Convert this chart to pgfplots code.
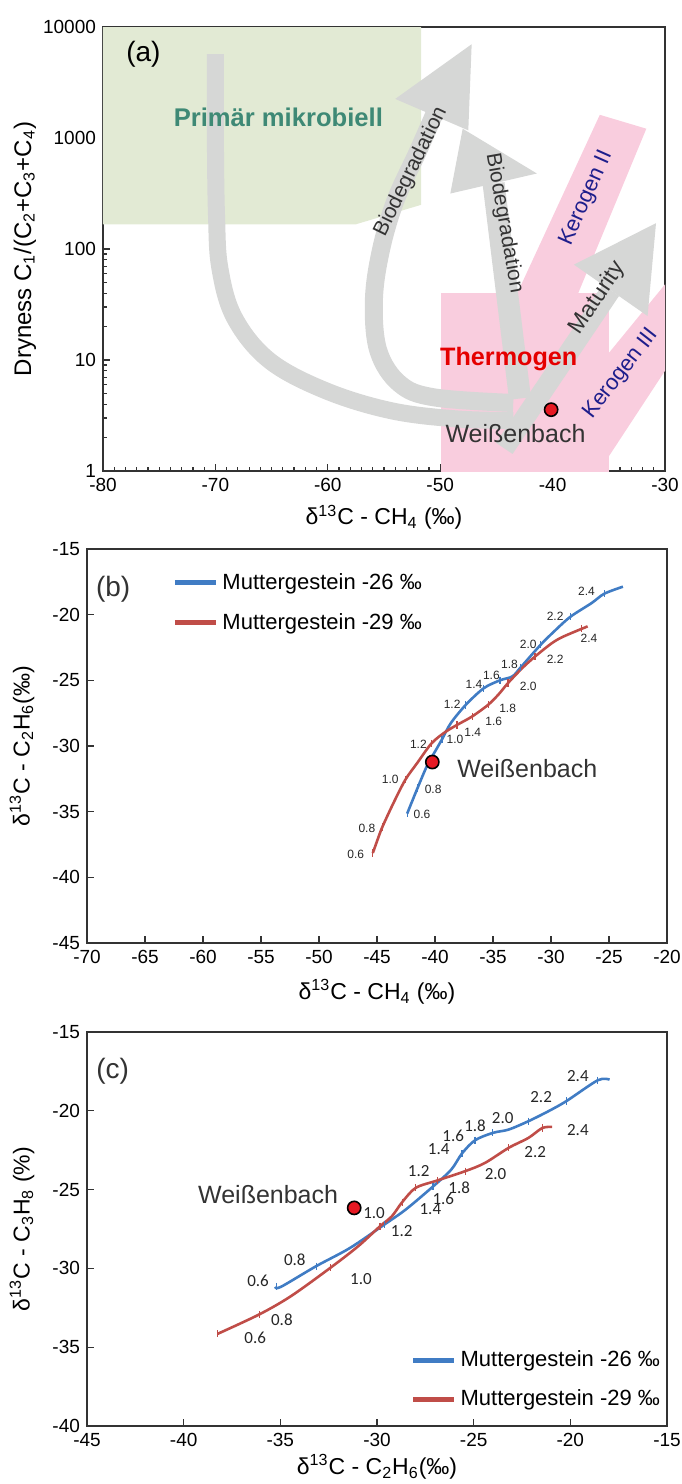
\documentclass[border=0pt]{standalone}
\usepackage{fontspec}
\setmainfont{Liberation Sans}
\newfontfamily\calibri{Carlito}
\usepackage{pgfplots}
\pgfplotsset{compat=1.18}

\definecolor{cblue}{RGB}{64,124,196}
\definecolor{cred}{RGB}{192,77,72}
\definecolor{dotred}{RGB}{230,25,35}
\definecolor{mgreen}{RGB}{226,234,212}
\definecolor{mpink}{RGB}{249,205,222}
\definecolor{agray}{RGB}{214,215,214}
\definecolor{teal2}{RGB}{62,137,117}
\definecolor{navy2}{RGB}{30,30,140}
\definecolor{axgray}{RGB}{51,51,51}

\pgfplotsset{
  panel/.style={
    scale only axis,
    axis line style={axgray, line width=1.4pt},
    tick align=inside, xtick pos=left, ytick pos=left,
    tick style={axgray, line width=0.6pt},
    major tick length=3.5pt, minor tick length=2.2pt,
    tick label style={font=\fontsize{9.5}{11}\selectfont},
    /pgf/number format/assume math mode=true,
    every axis label/.append style={font=\fontsize{11.5}{13}\selectfont},
    legend cell align=left,
    legend image code/.code={\draw[#1, line width=2.6pt] (0pt,0pt) -- (20.5pt,0pt);},
  },
  curve/.style={line width=1.3pt, smooth, tension=0.5},
  mat/.style={only marks, mark=|, mark size=1.8pt, mark options={line width=0.6pt}, forget plot},
  lbl/.style={only marks, mark=none, forget plot, nodes near coords, point meta=explicit symbolic,
    nodes near coords style={anchor=center, inner sep=0pt, text=black!85, font=#1}},
  dot/.style={only marks, mark=*, mark size=3.3pt, forget plot,
    mark options={fill=dotred, draw=black, line width=0.8pt}},
}

\begin{document}
\begin{tikzpicture}
\useasboundingbox (0,0) rectangle (340.5pt,-742pt);

% ---------------- (a)
\begin{axis}[panel, at={(51.5pt,-235.5pt)}, anchor=south west,
  width=281pt, height=222pt,
  xmin=-80, xmax=-30, ymode=log, ymin=1, ymax=10000,
  xtick={-80,-70,...,-30}, minor x tick num=9,
  ytick={1,10,100,1000,10000}, yticklabels={1,10,100,1000,10000},
  xlabel={δ\textsuperscript{13}C - CH\textsubscript{4} (‰)},
  ylabel={Dryness C\textsubscript{1}/(C\textsubscript{2}+C\textsubscript{3}+C\textsubscript{4})},
  xlabel style={at={(axis description cs:0.5,-0.104)}, anchor=center},
  ylabel style={at={(axis description cs:-0.139,0.5)}, anchor=center, font=\fontsize{12}{14}\selectfont},
]
\addplot[draw=none, fill=mgreen, forget plot] coordinates {(-81,11000) (-51.7,11000) (-51.7,250) (-57.5,167) (-81,167)} -- cycle;
\addplot[draw=none, fill=mpink, forget plot] coordinates {(-49.9,0.9) (-35,0.9) (-35,40) (-49.9,40)} -- cycle;
\addplot[draw=none, fill=mpink, forget plot] coordinates {(-43.15,39.8) (-35.8,1618) (-31.66,1213) (-37.73,39.8)} -- cycle;
\addplot[draw=none, fill=mpink, forget plot] coordinates {(-35.8,9.2) (-30,48) (-30,8) (-35.03,1.34)} -- cycle;

\addplot[agray, line width=8.5pt, smooth, tension=0.6, forget plot] coordinates {
  (-70,5700) (-70,1000) (-69.9,200) (-69.6,67) (-68.3,24) (-65.2,9.9) (-60.2,5.3) (-54.4,3.5) (-48.6,2.95) (-43.5,2.85)};
\addplot[agray, line width=9pt, smooth, tension=0.6, forget plot] coordinates {
  (-43.5,4.1) (-50.5,4.6) (-53.6,6.1) (-55.5,12.1) (-55.9,33.9) (-55.3,95) (-54,270) (-52,750) (-50.4,1750)};
\addplot[draw=none, fill=agray, forget plot] coordinates {(-54,2250) (-47.2,7000) (-47.5,1172)} -- cycle;
\addplot[agray, line width=11pt, forget plot] coordinates {(-42.9,4.5) (-45.25,389)};
\addplot[draw=none, fill=agray, forget plot] coordinates {(-48.0,1213) (-49.1,316) (-41.4,479)} -- cycle;
\addplot[agray, line width=10pt, forget plot] coordinates {(-44.3,1.6) (-34.82,42.5)};
\addplot[draw=none, fill=agray, forget plot] coordinates {(-30.8,171) (-38.1,72.3) (-31.55,24.9)} -- cycle;

\node[font=\fontsize{14}{16}\selectfont] at (axis cs:-76.4,5690) {(a)};
\node[font=\bfseries\fontsize{12.8}{14}\selectfont, text=teal2] at (axis cs:-64.4,1540) {Primär mikrobiell};
\node[font=\bfseries\fontsize{12.6}{14}\selectfont, text=red!90!black] at (axis cs:-43.9,10.2) {Thermogen};
\node[font=\fontsize{12.5}{14}\selectfont, text=axgray] at (axis cs:-43.3,2.17) {Weißenbach};
\node[font=\fontsize{11}{13}\selectfont, text=navy2, rotate=66] at (axis cs:-37,286) {Kerogen II};
\node[font=\fontsize{11}{13}\selectfont, text=navy2, rotate=52] at (axis cs:-33.9,7.5) {Kerogen III};
\node[font=\fontsize{11.5}{13}\selectfont, text=axgray, rotate=56] at (axis cs:-36,36.3) {Maturity};
\node[font=\fontsize{10.5}{12}\selectfont, text=axgray, rotate=64] at (axis cs:-52.6,497) {Biodegradation};
\node[font=\fontsize{10.5}{12}\selectfont, text=axgray, rotate=-80] at (axis cs:-44.3,171) {Biodegradation};
\addplot[dot] coordinates {(-40.13,3.57)};
\end{axis}

% ---------------- (b)
\begin{axis}[panel, at={(43.5pt,-471.5pt)}, anchor=south west,
  width=290pt, height=197pt,
  xmin=-70, xmax=-20, ymin=-45, ymax=-15,
  xtick={-70,-65,...,-20}, ytick={-45,-40,...,-15},
  xlabel={δ\textsuperscript{13}C - CH\textsubscript{4} (‰)},
  ylabel={δ\textsuperscript{13}C - C\textsubscript{2}H\textsubscript{6}(‰)},
  xlabel style={at={(axis description cs:0.5,-0.124)}, anchor=center},
  ylabel style={at={(axis description cs:-0.112,0.5)}, anchor=center},
  legend style={draw=none, fill=none, at={(axis cs:-63.2,-16.2)}, anchor=north west,
    font=\fontsize{11}{13}\selectfont, row sep=6.5pt},
]
\addplot[cblue, curve] coordinates {
  (-42.40,-35.15) (-41.50,-33.19) (-40.68,-31.50) (-39.82,-30.15) (-39.40,-29.50) (-38.63,-28.25)
  (-37.35,-26.87) (-35.80,-25.60) (-34.40,-25.00) (-33.33,-24.70) (-32.60,-24.00) (-30.90,-22.30)
  (-29.57,-21.14) (-28.30,-20.14) (-26.49,-19.11) (-25.40,-18.40) (-23.80,-17.87)};
\addlegendentry{Muttergestein -26 ‰}
\addplot[cred, curve] coordinates {
  (-45.36,-38.15) (-44.95,-37.13) (-44.54,-36.17) (-43.58,-34.34) (-42.55,-32.56) (-41.53,-31.29)
  (-40.30,-29.80) (-39.14,-28.95) (-38.11,-28.40) (-36.80,-27.75) (-35.40,-26.85) (-34.50,-26.05)
  (-33.70,-25.20) (-32.47,-24.06) (-31.38,-23.19) (-29.91,-22.16) (-28.89,-21.65) (-26.84,-20.89)};
\addlegendentry{Muttergestein -29 ‰}
\addplot[mat, cblue] coordinates {
  (-42.40,-35.15) (-41.50,-33.19) (-39.40,-29.50) (-37.35,-26.87) (-35.80,-25.60)
  (-34.40,-25.00) (-32.60,-24.00) (-30.90,-22.30) (-28.30,-20.14) (-25.40,-18.40)};
\addplot[mat, cred] coordinates {
  (-45.36,-38.15) (-44.54,-36.17) (-42.55,-32.56) (-40.30,-29.80) (-38.11,-28.40)
  (-36.80,-27.75) (-35.40,-26.85) (-33.70,-25.20) (-31.38,-23.19) (-27.40,-21.05)};
\addplot[lbl={\fontsize{6}{7}\selectfont}] table[meta=l] {
x y l
-41.12 -35.23 0.6
-40.16 -33.27 0.8
-38.28 -29.47 1.0
-38.52 -26.80 1.2
-36.64 -25.33 1.4
-35.14 -24.62 1.6
-33.57 -23.76 1.8
-31.96 -22.23 2.0
-29.64 -20.13 2.2
-26.94 -18.22 2.4
-46.83 -38.27 0.6
-45.87 -36.29 0.8
-43.86 -32.56 1.0
-41.43 -29.85 1.2
-36.75 -28.96 1.4
-34.94 -28.12 1.6
-33.74 -27.16 1.8
-31.96 -25.46 2.0
-29.64 -23.43 2.2
-26.73 -21.78 2.4
};
\addplot[dot] coordinates {(-40.23,-31.22)};
\node[font=\fontsize{12.5}{14}\selectfont, text=axgray, anchor=west, inner sep=1pt] at (axis cs:-38.28,-31.68) {Weißenbach};
\node[font=\fontsize{14}{16}\selectfont, text=axgray] at (axis cs:-67.74,-18.1) {(b)};
\end{axis}

% ---------------- (c)
\begin{axis}[panel, at={(43.5pt,-713pt)}, anchor=south west,
  width=290pt, height=197pt,
  xmin=-45, xmax=-15, ymin=-40, ymax=-15,
  xtick={-45,-40,...,-15}, ytick={-40,-35,...,-15},
  xlabel={δ\textsuperscript{13}C - C\textsubscript{2}H\textsubscript{6}(‰)},
  ylabel={δ\textsuperscript{13}C - C\textsubscript{3}H\textsubscript{8} (\%)},
  xlabel style={at={(axis description cs:0.5,-0.104)}, anchor=center},
  ylabel style={at={(axis description cs:-0.112,0.5)}, anchor=center},
  legend style={draw=none, fill=none, at={(axis cs:-28.6,-34.7)}, anchor=north west,
    font=\fontsize{11}{13}\selectfont, row sep=6pt},
]
\addplot[cblue, curve] coordinates {
  (-35.27,-31.17) (-34.97,-31.17) (-33.15,-29.86) (-31.38,-28.69) (-29.60,-27.20) (-28.51,-26.26)
  (-27.10,-24.80) (-26.16,-23.73) (-25.60,-22.70) (-24.93,-21.87) (-24.01,-21.40) (-23.19,-21.19)
  (-22.17,-20.66) (-21.14,-20.03) (-20.20,-19.38) (-18.58,-18.06) (-17.97,-18.02)};
\addlegendentry{Muttergestein -26 ‰}
\addplot[cred, curve] coordinates {
  (-38.24,-34.15) (-36.09,-32.92) (-34.45,-31.76) (-32.41,-29.96) (-30.97,-28.59) (-29.84,-27.32)
  (-29.23,-26.69) (-28.70,-25.80) (-28.00,-24.89) (-26.88,-24.42) (-25.44,-23.83) (-24.42,-23.31)
  (-23.19,-22.35) (-22.17,-21.72) (-21.45,-21.09) (-20.94,-21.02)};
\addlegendentry{Muttergestein -29 ‰}
\addplot[mat, cblue] coordinates {
  (-35.20,-31.15) (-33.15,-29.86) (-29.60,-27.20) (-27.10,-24.80) (-25.60,-22.70)
  (-24.93,-21.87) (-24.01,-21.40) (-22.17,-20.66) (-20.20,-19.38) (-18.58,-18.06)};
\addplot[mat, cred] coordinates {
  (-38.24,-34.15) (-36.09,-32.92) (-32.41,-29.96) (-29.84,-27.32) (-28.70,-25.80)
  (-28.00,-24.89) (-26.88,-24.42) (-25.44,-23.83) (-23.19,-22.35) (-21.45,-21.09)};
\addplot[lbl={\calibri\fontsize{8.5}{10}\selectfont}] table[meta=l] {
x y l
-36.15 -30.81 0.6
-34.25 -29.43 0.8
-30.15 -26.47 1.0
-27.84 -23.83 1.2
-26.81 -22.46 1.4
-26.06 -21.61 1.6
-24.93 -20.94 1.8
-23.50 -20.45 2.0
-21.51 -19.12 2.2
-19.61 -17.77 2.4
-36.30 -34.40 0.6
-34.92 -33.28 0.8
-30.83 -30.66 1.0
-28.72 -27.64 1.2
-27.24 -26.26 1.4
-26.57 -25.59 1.6
-25.75 -24.89 1.8
-23.87 -24.04 2.0
-21.82 -22.63 2.2
-19.61 -21.23 2.4
};
\addplot[dot] coordinates {(-31.18,-26.16)};
\node[font=\fontsize{12.5}{14}\selectfont, text=axgray, anchor=east, inner sep=1pt] at (axis cs:-31.89,-25.31) {Weißenbach};
\node[font=\fontsize{14}{16}\selectfont, text=axgray] at (axis cs:-43.67,-17.49) {(c)};
\end{axis}
\end{tikzpicture}
\end{document}
